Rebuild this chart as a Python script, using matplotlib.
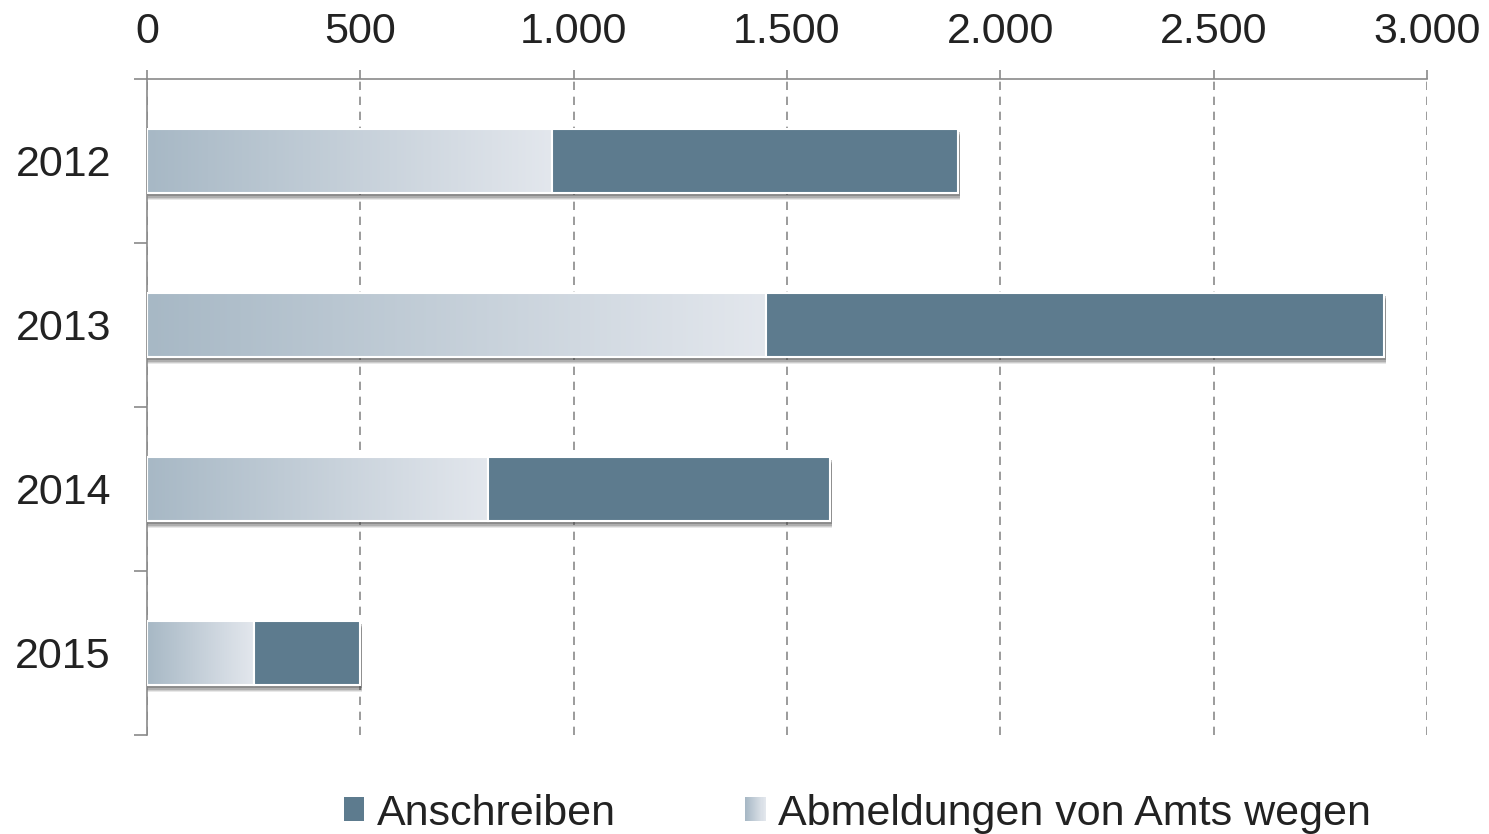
import numpy as np
import matplotlib
matplotlib.use("Agg")
import matplotlib.pyplot as plt
from matplotlib.patches import Rectangle, Patch
from matplotlib.legend_handler import HandlerBase
from matplotlib.colors import LinearSegmentedColormap
from matplotlib.ticker import FuncFormatter

plt.rcParams['font.family'] = ['Liberation Sans', 'DejaVu Sans']

# data
years = ["2012", "2013", "2014", "2015"]
abmeldungen = [950, 1450, 800, 250]
anschreiben = [950, 1450, 800, 250]
x_ticks = [0, 500, 1000, 1500, 2000, 2500, 3000]

dark = "#5d7b8e"
grad_left = "#a7b8c5"
grad_right = "#e3e7ed"
axis_col = "#8a8a8a"
text_col = "#222222"
fs = 31

cmap = LinearSegmentedColormap.from_list("abm", [grad_left, grad_right])
grad = np.linspace(0, 1, 256).reshape(1, -1)

fig = plt.figure(figsize=(14.89, 8.34), dpi=100)
ax = fig.add_axes([147 / 1489, 1 - 735 / 834, 1280 / 1489, (735 - 79) / 834])

ypos = np.arange(len(years))
h = 0.39

for y, a, s in zip(ypos, abmeldungen, anschreiben):
    # soft shadow under the bar
    for k, al in enumerate([0.12, 0.16, 0.22, 0.32]):
        off = 0.045 - k * 0.008
        ax.add_patch(Rectangle((0, y - h / 2 + off), a + s + 5, h, facecolor="#444444",
                               edgecolor="none", alpha=al, zorder=2))
    # gradient part
    rect = Rectangle((0, y - h / 2), a, h, facecolor="none", edgecolor="white",
                     linewidth=1.5, zorder=4)
    ax.add_patch(rect)
    im = ax.imshow(grad, cmap=cmap, aspect="auto", extent=(0, a, y + h / 2, y - h / 2),
                   zorder=3, interpolation="bicubic")
    im.set_clip_path(rect)
    # dark part
    ax.barh(y, s, left=a, height=h, color=dark, edgecolor="white", linewidth=1.5, zorder=4)

ax.set_xlim(0, 3000)
ax.set_ylim(3.5, -0.5)

ax.xaxis.tick_top()
ax.set_xticks(x_ticks)
ax.xaxis.set_major_formatter(FuncFormatter(lambda v, p: f"{int(v):,}".replace(",", ".")))
ax.tick_params(axis="x", length=6.5, width=1.2, color=axis_col, pad=13,
               labelsize=fs, labelcolor=text_col)
ax.grid(axis="x", linestyle=(0, (5, 4)), color=axis_col, linewidth=1.2, zorder=1)

ax.set_yticks([-0.5, 0.5, 1.5, 2.5, 3.5])
ax.set_yticklabels([])
ax.set_yticks(ypos, minor=True)
ax.set_yticklabels(years, minor=True)
ax.tick_params(axis="y", which="major", length=9.5, width=1.2, color=axis_col)
ax.tick_params(axis="y", which="minor", length=0, pad=26, labelsize=fs, labelcolor=text_col)

for side in ["right", "bottom"]:
    ax.spines[side].set_visible(False)
for side in ["top", "left"]:
    ax.spines[side].set_color(axis_col)
    ax.spines[side].set_linewidth(1.2)


class GradientHandler(HandlerBase):
    def create_artists(self, legend, orig_handle, xdescent, ydescent, width, height,
                       fontsize, trans):
        n = 20
        arts = []
        for i in range(n):
            c = cmap(i / (n - 1))
            arts.append(Rectangle((-xdescent + width * i / n, -ydescent), width / n + 0.3,
                                  height, facecolor=c, edgecolor="none", transform=trans))
        return arts


h_ans = Patch(facecolor=dark, edgecolor="none")
h_abm = Patch(facecolor="none", edgecolor="none")
leg = fig.legend([h_ans, h_abm], ["Anschreiben", "Abmeldungen von Amts wegen"],
                 loc="lower center", bbox_to_anchor=(0.576, -0.046), ncol=2, frameon=False,
                 fontsize=fs, handlelength=0.47, handleheight=0.47, handletextpad=0.3,
                 columnspacing=3.0, handler_map={h_abm: GradientHandler()})
for t in leg.get_texts():
    t.set_color(text_col)

fig.savefig("out.png", dpi=100)
